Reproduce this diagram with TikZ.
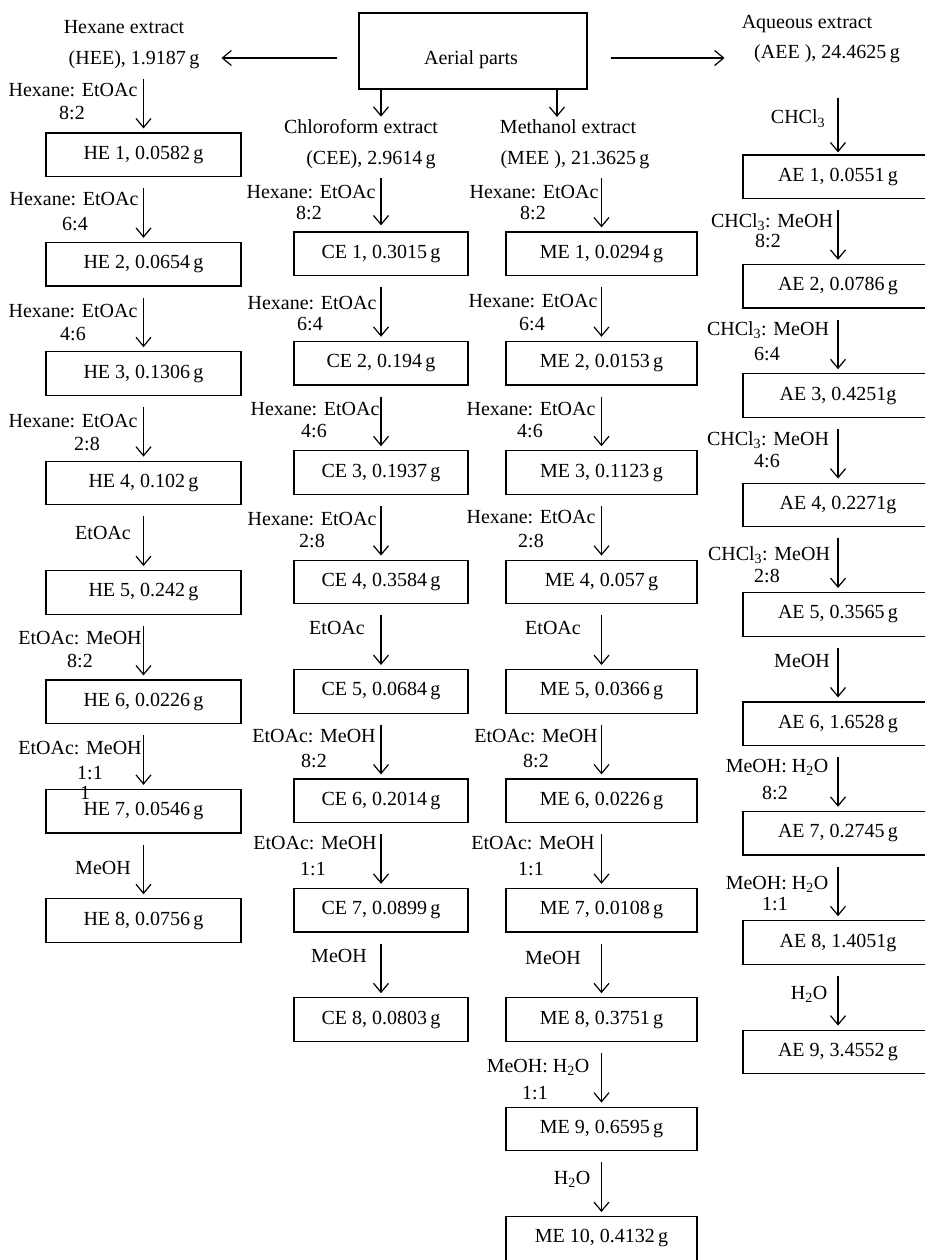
\documentclass[tikz,border=0pt]{standalone}
\usepackage{fontspec}
\setmainfont{Liberation Serif}
\usetikzlibrary{arrows.meta,calc}
\begin{document}
\begin{tikzpicture}[x=1pt,y=-1pt,
  font=\fontsize{20}{24}\selectfont,
  box/.style={draw,line width=1.2pt,minimum height=43.5pt,inner sep=0pt},
  hebox/.style={box,minimum width=195pt},
  cebox/.style={box,minimum width=174pt},
  mebox/.style={box,minimum width=191pt},
  aebox/.style={box,minimum width=190pt},
  lbl/.style={anchor=base,inner sep=0pt},
  arr/.style={line width=1.2pt,-{Straight Barb[length=9pt,width=15pt,line width=1.2pt]}}]
\useasboundingbox (0,0) rectangle (925,1260);

% top
\node[draw,line width=1.2pt,minimum width=228pt,minimum height=76pt,inner sep=0pt] (aerial) at (473,51) {};
\node[lbl] (aeriallbl) at (471,65) {Aerial parts};
\node[lbl] (hee1) at (124,34) {Hexane extract};
\node[lbl] (hee2) at (134,65) {(HEE), 1.9187\,g};
\node[lbl] (aee1) at (807,29) {Aqueous extract};
\node[lbl] (aee2) at (827,59) {(AEE ), 24.4625\,g};
\node[lbl] (cee1) at (361,134) {Chloroform extract};
\node[lbl] (cee2) at (371,165) {(CEE), 2.9614\,g};
\node[lbl] (mee1) at (568,134) {Methanol extract};
\node[lbl] (mee2) at (575,165) {(MEE ), 21.3625\,g};

\coordinate (awl) at ($(aerial.west)+(-21,7)$);
\coordinate (awr) at ($(aerial.east)+(23,7)$);
\coordinate (adl) at ($(aerial.south)+(-92,0)$);
\coordinate (adr) at ($(aerial.south)+(84,0)$);
\draw[arr] (awl) -- ($(hee2.east |- awl)+(22,0)$);
\draw[arr] (awr) -- ($(aee1.west |- awr)+(-17,0)$);
\draw[arr] (adl) -- ($(adl |- cee1.north)+(0,-3)$);
\draw[arr] (adr) -- ($(adr |- mee1.north)+(0,-3)$);

% HE column
\node[hebox] (he1) at (143.5,154.75) {HE 1, 0.0582\,g};
\node[hebox] (he2) at (143.5,264.15) {HE 2, 0.0654\,g};
\node[hebox] (he3) at (143.5,373.55) {HE 3, 0.1306\,g};
\node[hebox] (he4) at (143.5,482.95) {HE 4, 0.102\,g};
\node[hebox] (he5) at (143.5,592.35) {HE 5, 0.242\,g};
\node[hebox] (he6) at (143.5,701.75) {HE 6, 0.0226\,g};
\node[hebox] (he7) at (143.5,811.15) {HE 7, 0.0546\,g};
\node[hebox] (he8) at (143.5,920.55) {HE 8, 0.0756\,g};

\draw[arr] ($(he1.north |- hee2.south)+(0,9)$) -- ([yshift=4pt]he1.north);
\foreach \a/\b in {he1/he2,he2/he3,he3/he4,he4/he5,he5/he6,he6/he7,he7/he8}
  \draw[arr] ([yshift=-11pt]\a.south) -- ([yshift=4pt]\b.north);

\node[lbl] (hl0a) at (73,97) {Hexane: EtOAc};
\node[lbl] (hl0b) at (72,120) {8:2};
\node[lbl] (hl1a) at (74,205) {Hexane: EtOAc};
\node[lbl] (hl1b) at (75,230) {6:4};
\node[lbl] (hl2a) at (73,317) {Hexane: EtOAc};
\node[lbl] (hl2b) at (73,340) {4:6};
\node[lbl] (hl3a) at (73,427) {Hexane: EtOAc};
\node[lbl] (hl3b) at (87,450) {2:8};
\node[lbl] (hl4) at (103,539) {EtOAc};
\node[lbl] (hl5a) at (80,644) {EtOAc: MeOH};
\node[lbl] (hl5b) at (80,667) {8:2};
\node[lbl] (hl6a) at (80,754) {EtOAc: MeOH};
\node[lbl] (hl6b) at (90,779) {1:1};
\node[lbl] (hl6c) at (85,799) {1};
\node[lbl] (hl7) at (103,874) {MeOH};

% CE column
\node[cebox] (ce1) at (381,253.75) {CE 1, 0.3015\,g};
\node[cebox] (ce2) at (381,363.15) {CE 2, 0.194\,g};
\node[cebox] (ce3) at (381,472.55) {CE 3, 0.1937\,g};
\node[cebox] (ce4) at (381,581.95) {CE 4, 0.3584\,g};
\node[cebox] (ce5) at (381,691.35) {CE 5, 0.0684\,g};
\node[cebox] (ce6) at (381,800.75) {CE 6, 0.2014\,g};
\node[cebox] (ce7) at (381,910.15) {CE 7, 0.0899\,g};
\node[cebox] (ce8) at (381,1019.55) {CE 8, 0.0803\,g};

\draw[arr] ($(ce1.north |- cee2.south)+(0,8)$) -- ([yshift=6pt]ce1.north);
\foreach \a/\b in {ce1/ce2,ce2/ce3,ce3/ce4,ce4/ce5,ce5/ce6,ce6/ce7,ce7/ce8}
  \draw[arr] ([yshift=-11pt]\a.south) -- ([yshift=4pt]\b.north);

\node[lbl] (cl0a) at (311,199) {Hexane: EtOAc};
\node[lbl] (cl0b) at (309,219) {8:2};
\node[lbl] (cl1a) at (312,309) {Hexane: EtOAc};
\node[lbl] (cl1b) at (310,330) {6:4};
\node[lbl] (cl2a) at (315,415) {Hexane: EtOAc};
\node[lbl] (cl2b) at (314,437) {4:6};
\node[lbl] (cl3a) at (312,525) {Hexane: EtOAc};
\node[lbl] (cl3b) at (312,547) {2:8};
\node[lbl] (cl4) at (337,634) {EtOAc};
\node[lbl] (cl5a) at (314,742) {EtOAc: MeOH};
\node[lbl] (cl5b) at (314,767) {8:2};
\node[lbl] (cl6a) at (315,849) {EtOAc: MeOH};
\node[lbl] (cl6b) at (313,875) {1:1};
\node[lbl] (cl7) at (339,962) {MeOH};

% ME column
\node[mebox] (me1) at (601.5,253.75) {ME 1, 0.0294\,g};
\node[mebox] (me2) at (601.5,363.15) {ME 2, 0.0153\,g};
\node[mebox] (me3) at (601.5,472.55) {ME 3, 0.1123\,g};
\node[mebox] (me4) at (601.5,581.95) {ME 4, 0.057\,g};
\node[mebox] (me5) at (601.5,691.35) {ME 5, 0.0366\,g};
\node[mebox] (me6) at (601.5,800.75) {ME 6, 0.0226\,g};
\node[mebox] (me7) at (601.5,910.15) {ME 7, 0.0108\,g};
\node[mebox] (me8) at (601.5,1019.55) {ME 8, 0.3751\,g};
\node[mebox] (me9) at (601.5,1128.95) {ME 9, 0.6595\,g};
\node[mebox] (me10) at (601.5,1238.35) {ME 10, 0.4132\,g};

\draw[arr] ($(me1.north |- mee2.south)+(0,8)$) -- ([yshift=4pt]me1.north);
\foreach \a/\b in {me1/me2,me2/me3,me3/me4,me4/me5,me5/me6,me6/me7,me7/me8,me8/me9,me9/me10}
  \draw[arr] ([yshift=-11pt]\a.south) -- ([yshift=4pt]\b.north);

\node[lbl] (ml0a) at (534,199) {Hexane: EtOAc};
\node[lbl] (ml0b) at (533,219) {8:2};
\node[lbl] (ml1a) at (533,307) {Hexane: EtOAc};
\node[lbl] (ml1b) at (532,330) {6:4};
\node[lbl] (ml2a) at (531,415) {Hexane: EtOAc};
\node[lbl] (ml2b) at (530,437) {4:6};
\node[lbl] (ml3a) at (531,523) {Hexane: EtOAc};
\node[lbl] (ml3b) at (531,547) {2:8};
\node[lbl] (ml4) at (553,634) {EtOAc};
\node[lbl] (ml5a) at (536,742) {EtOAc: MeOH};
\node[lbl] (ml5b) at (536,767) {8:2};
\node[lbl] (ml6a) at (533,849) {EtOAc: MeOH};
\node[lbl] (ml6b) at (531,875) {1:1};
\node[lbl] (ml7) at (553,964) {MeOH};
\node[lbl] (ml8a) at (538,1072) {MeOH: H\textsubscript{2}O};
\node[lbl] (ml8b) at (535,1099) {1:1};
\node[lbl] (ml9) at (572,1184) {H\textsubscript{2}O};

% AE column
\node[aebox] (ae1) at (838,176.75) {AE 1, 0.0551\,g};
\node[aebox] (ae2) at (838,286.15) {AE 2, 0.0786\,g};
\node[aebox] (ae3) at (838,395.55) {AE 3, 0.4251g};
\node[aebox] (ae4) at (838,504.95) {AE 4, 0.2271g};
\node[aebox] (ae5) at (838,614.35) {AE 5, 0.3565\,g};
\node[aebox] (ae6) at (838,723.75) {AE 6, 1.6528\,g};
\node[aebox] (ae7) at (838,833.15) {AE 7, 0.2745\,g};
\node[aebox] (ae8) at (838,942.55) {AE 8, 1.4051g};
\node[aebox] (ae9) at (838,1051.95) {AE 9, 3.4552\,g};

\draw[arr] ($(ae1.north |- aee2.south)+(0,34)$) -- ([yshift=2pt]ae1.north);
\foreach \a/\b in {ae1/ae2,ae2/ae3,ae3/ae4,ae4/ae5,ae5/ae6,ae6/ae7,ae7/ae8,ae8/ae9}
  \draw[arr] ([yshift=-11pt]\a.south) -- ([yshift=4pt]\b.north);

\node[lbl] (al0) at (798,124) {CHCl\textsubscript{3}};
\node[lbl] (al1a) at (772,227) {CHCl\textsubscript{3}: MeOH};
\node[lbl] (al1b) at (768,247) {8:2};
\node[lbl] (al2a) at (768,335) {CHCl\textsubscript{3}: MeOH};
\node[lbl] (al2b) at (767,360) {6:4};
\node[lbl] (al3a) at (768,445) {CHCl\textsubscript{3}: MeOH};
\node[lbl] (al3b) at (767,467) {4:6};
\node[lbl] (al4a) at (769,560) {CHCl\textsubscript{3}: MeOH};
\node[lbl] (al4b) at (767,582) {2:8};
\node[lbl] (al5) at (802,667) {MeOH};
\node[lbl] (al6a) at (777,772) {MeOH: H\textsubscript{2}O};
\node[lbl] (al6b) at (775,799) {8:2};
\node[lbl] (al7a) at (777,889) {MeOH: H\textsubscript{2}O};
\node[lbl] (al7b) at (775,910) {1:1};
\node[lbl] (al8) at (809,999) {H\textsubscript{2}O};
\end{tikzpicture}
\end{document}
